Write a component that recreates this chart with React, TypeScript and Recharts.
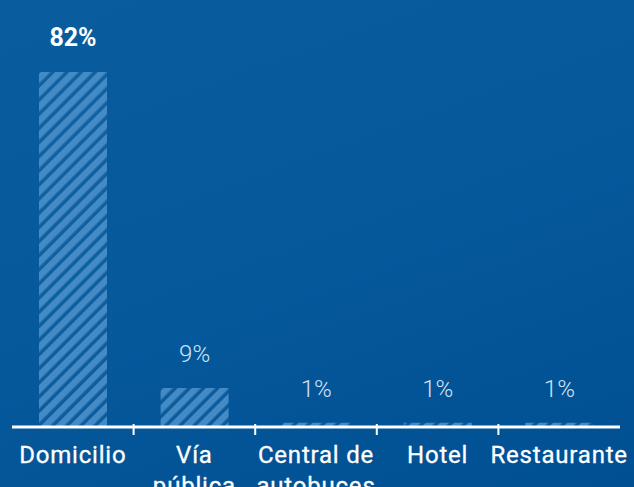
import { BarChart, Bar, XAxis, YAxis, LabelList } from 'recharts';

const categories = ['Domicilio', 'Vía\npública', 'Central de\nautobuces', 'Hotel', 'Restaurante'];
const shares = [82, 9, 1, 1, 1];
const valueLabels = ['82%', '9%', '1%', '1%', '1%'];

const W = 634;
const H = 487;
const M = { top: 72, right: 14, left: 12, bottom: 0 };
const BAND = (W - M.left - M.right) / categories.length;
const FONT = 'Roboto, "DejaVu Sans", sans-serif';

const data = categories.map((name, i) => ({ name, value: shares[i], label: valueLabels[i] }));

function CategoryTick(props: any) {
  const { x, y, payload, index } = props;
  const lines = String(payload.value).split('\n');
  return (
    <g>
      {index < categories.length - 1 && (
        <line x1={x + BAND / 2} x2={x + BAND / 2} y1={y} y2={y - 11} stroke="#fff" strokeWidth={2} />
      )}
      <text x={x} y={y + 28} textAnchor="middle" fill="#fff" fontFamily={FONT} fontSize={24} letterSpacing={0.8}
        stroke="#fff" strokeWidth={0.3}>
        {lines.map((l, i) => (
          <tspan key={i} x={x} dy={i === 0 ? 0 : 31}>{l}</tspan>
        ))}
      </text>
    </g>
  );
}

function ValueLabel(props: any) {
  const { x, y, width, index } = props;
  const first = index === 0;
  return (
    <text
      x={x + width / 2}
      y={y - 26}
      textAnchor="middle"
      fontFamily={FONT}
      fontSize={first ? 25 : 24}
      fontWeight={first ? 700 : 300}
      fill={first ? '#fff' : '#d3e3f2'}
    >
      {valueLabels[index]}
    </text>
  );
}

export default function App() {
  return (
    <div
      style={{
        position: 'absolute', left: 0, top: 0, width: W, height: H, overflow: 'hidden',
        background: 'linear-gradient(160deg, #095d9f 0%, #065a9c 45%, #004f93 100%)',
      }}
    >
      <BarChart width={W} height={H} data={data} margin={M}>
        <defs>
          <pattern id="stripes" width="10" height="10" patternUnits="userSpaceOnUse" patternTransform="rotate(45)">
            <rect width="10" height="10" fill="rgba(255,255,255,0.03)" />
            <rect width="6.5" height="10" fill="#448ac5" />
          </pattern>
        </defs>
        <YAxis hide domain={[0, 82]} />
        <XAxis
          dataKey="name"
          height={60}
          interval={0}
          axisLine={{ stroke: '#fff', strokeWidth: 3 }}
          tickLine={false}
          tick={<CategoryTick />}
        />
        <Bar dataKey="value" fill="url(#stripes)" barSize={68} isAnimationActive={false}>
          <LabelList dataKey="label" content={<ValueLabel />} />
        </Bar>
      </BarChart>
    </div>
  );
}
